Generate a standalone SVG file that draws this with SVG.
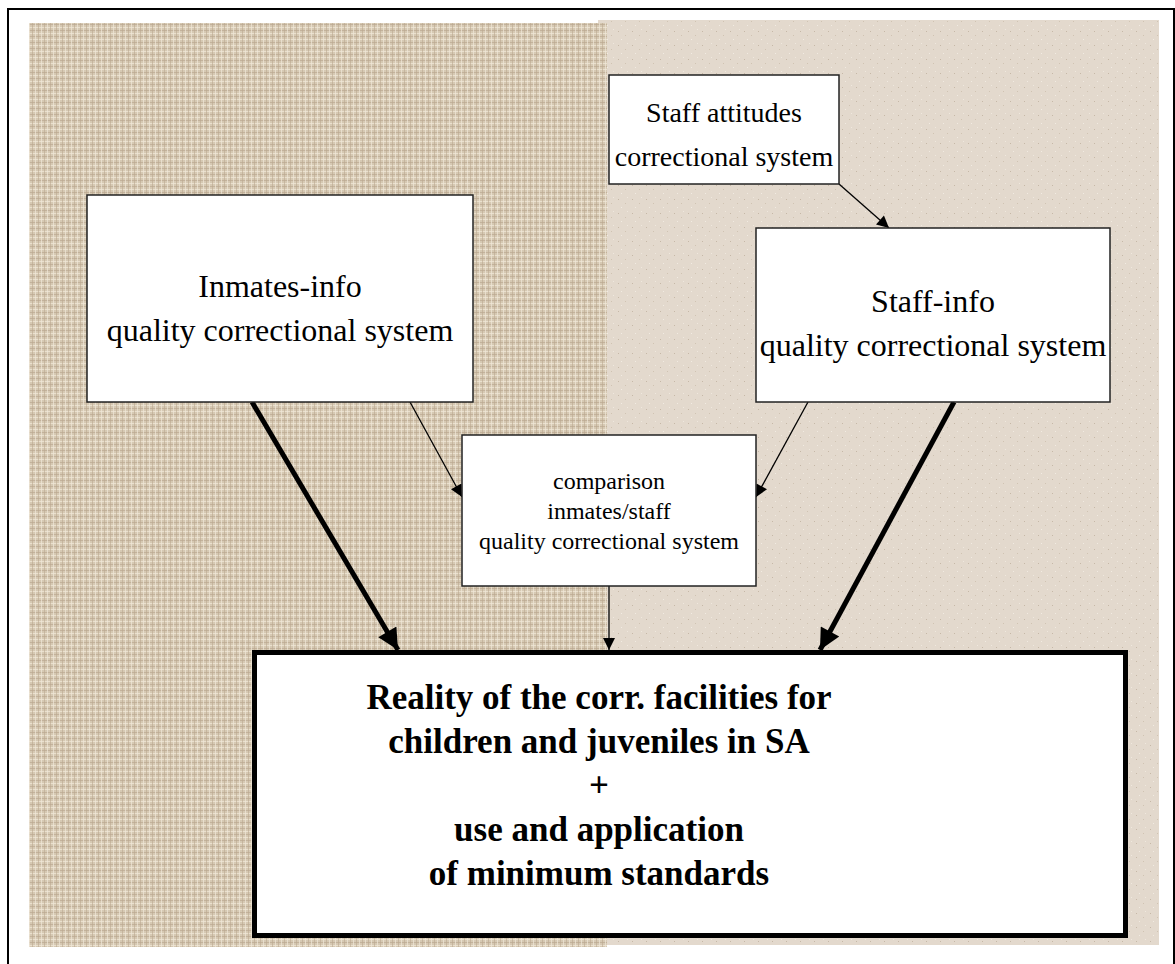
<svg xmlns="http://www.w3.org/2000/svg" width="1175" height="964" viewBox="0 0 1175 964">
<style>
.box{fill:#fff;stroke:#222;stroke-width:1.5}
.big{fill:#fff;stroke:#000;stroke-width:5}
.t{font-family:"Liberation Serif","Times New Roman",serif;fill:#000;text-anchor:middle}
.thin{stroke:#000;stroke-width:1.3;fill:none}
.thick{stroke:#000;stroke-width:5;fill:none}
</style>
<defs>
<pattern id="linen" width="6" height="6" patternUnits="userSpaceOnUse">
<rect width="6" height="6" fill="#d6c9b3"/>
<rect x="0" y="0" width="6" height="1" fill="#bba991" opacity="0.7"/>
<rect x="0" y="3" width="6" height="1" fill="#efe6d5" opacity="0.8"/>
<rect x="2" y="0" width="1" height="6" fill="#baa890" opacity="0.6"/>
<rect x="5" y="0" width="1" height="6" fill="#f0e8d9" opacity="0.7"/>
</pattern>
<pattern id="paper" width="14" height="14" patternUnits="userSpaceOnUse">
<rect width="14" height="14" fill="#e3d9cd"/>
<rect x="2" y="3" width="1" height="1" fill="#c6b8a7"/>
<rect x="9" y="7" width="1" height="1" fill="#d0c3b2"/>
<rect x="5" y="11" width="1" height="1" fill="#f1ebe2"/>
<rect x="11" y="1" width="1" height="1" fill="#efe8de"/>
</pattern>
<marker id="ah" viewBox="0 0 10 10" refX="10" refY="5" markerWidth="14" markerHeight="12" markerUnits="userSpaceOnUse" orient="auto">
<path d="M0,0 L10,5 L0,10 z" fill="#000"/>
</marker>
<marker id="ahb" viewBox="0 0 10 10" refX="10" refY="5" markerWidth="25" markerHeight="21" markerUnits="userSpaceOnUse" orient="auto">
<path d="M0,0 L10,5 L0,10 z" fill="#000"/>
</marker>
</defs>
<rect width="1175" height="964" fill="#fff"/>
<path d="M8,964 V9 H1174 V964" fill="none" stroke="#000" stroke-width="2"/>
<rect x="598" y="20" width="561" height="925" fill="url(#paper)"/>
<rect x="29" y="23" width="578" height="924" fill="url(#linen)"/>

<g id="connectors">
<line class="thin" x1="839" y1="184" x2="889" y2="228" marker-end="url(#ah)"/>
<line class="thin" x1="410" y1="402" x2="462" y2="497" marker-end="url(#ah)"/>
<line class="thin" x1="808" y1="402" x2="756" y2="497" marker-end="url(#ah)"/>
<line class="thin" x1="609" y1="586" x2="609" y2="650" marker-end="url(#ah)"/>
<line class="thick" x1="252" y1="402" x2="398" y2="650" marker-end="url(#ahb)"/>
<line class="thick" x1="954" y1="402" x2="820" y2="650" marker-end="url(#ahb)"/>
</g>

<g id="staff-attitudes">
<rect class="box" x="609" y="75" width="230" height="109"/>
<text class="t" font-size="28" x="724" y="122">Staff attitudes</text>
<text class="t" font-size="28" x="724" y="166">correctional system</text>
</g>
<g id="inmates-info">
<rect class="box" x="87" y="195" width="386" height="207"/>
<text class="t" font-size="32" x="280" y="297">Inmates-info</text>
<text class="t" font-size="32" x="280" y="341">quality correctional system</text>
</g>
<g id="staff-info">
<rect class="box" x="756" y="228" width="354" height="174"/>
<text class="t" font-size="32" x="933" y="312">Staff-info</text>
<text class="t" font-size="32" x="933" y="356">quality correctional system</text>
</g>
<g id="comparison">
<rect class="box" x="462" y="435" width="294" height="151"/>
<text class="t" font-size="24" x="609" y="489">comparison</text>
<text class="t" font-size="24" x="609" y="519">inmates/staff</text>
<text class="t" font-size="24" x="609" y="549">quality correctional system</text>
</g>
<g id="reality">
<rect class="big" x="254.5" y="652.5" width="871" height="283"/>
<g class="t" font-size="35" font-weight="bold">
<text x="599" y="709">Reality of the corr. facilities for</text>
<text x="599" y="753">children and juveniles in SA</text>
<text x="599" y="797">+</text>
<text x="599" y="841">use and application</text>
<text x="599" y="885">of minimum standards</text>
</g>
</g>
</svg>
